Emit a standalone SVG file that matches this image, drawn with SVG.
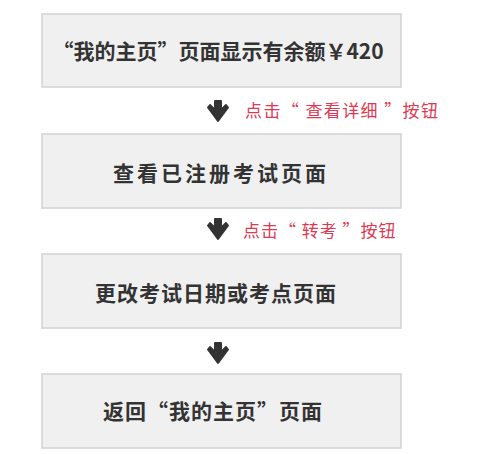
<svg xmlns="http://www.w3.org/2000/svg" width="482" height="454" viewBox="0 0 482 454">
<defs>
<style>
.box{fill:#f0f0f0;stroke:#d2d2d2;stroke-width:1.5}
.t{font-family:"Noto Sans CJK SC","Liberation Sans",sans-serif;font-size:21px;font-weight:bold;fill:#333;text-anchor:middle;dominant-baseline:central}
.lbl{font-family:"Noto Sans CJK SC","Liberation Sans",sans-serif;font-size:17px;fill:#dc3a52}
.arr{fill:#333;stroke:#333;stroke-width:2;stroke-linejoin:round}
</style>
<path id="ar" class="arr" d="M-3,0 H3 V9 L8,4 L10,6.5 L0,20 L-10,6.5 L-8,4 L-3,9 Z"/>
</defs>
<rect width="482" height="454" fill="#fff"/>
<g id="connectors">
<use href="#ar" x="218" y="101"/>
<use href="#ar" x="218" y="219"/>
<use href="#ar" x="218" y="343"/>
<text class="lbl" x="245" y="117" letter-spacing="1.4">点击“ 查看详细 ”按钮</text>
<text class="lbl" x="243" y="237" letter-spacing="1">点击“ 转考 ”按钮</text>
</g>
<g id="n1"><rect class="box" x="42" y="14" width="359" height="73"/><text class="t" x="218" y="50" font-size="19.5">“我的主页”页面显示有余额￥420</text></g>
<g id="n2"><rect class="box" x="42" y="134" width="359" height="74"/><text class="t" x="221" y="172" letter-spacing="3">查看已注册考试页面</text></g>
<g id="n3"><rect class="box" x="42" y="254" width="359" height="74"/><text class="t" x="216" y="292" letter-spacing="1">更改考试日期或考点页面</text></g>
<g id="n4"><rect class="box" x="42" y="374" width="359" height="74"/><text class="t" x="213" y="410" letter-spacing="1">返回“我的主页”页面</text></g>
</svg>
